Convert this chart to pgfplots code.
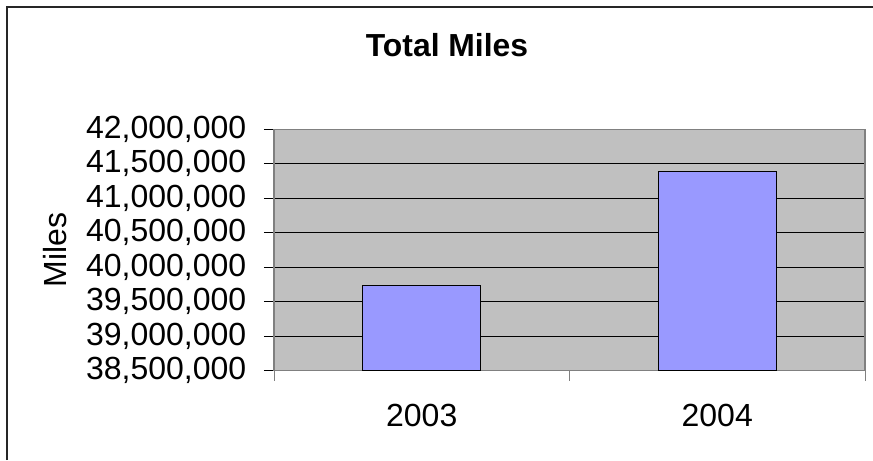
\documentclass[border=0pt]{standalone}
\usepackage{pgfplots}
\pgfplotsset{compat=1.18}
\usepackage{fontspec}
\setmainfont{Liberation Sans}
\definecolor{plotbg}{HTML}{C0C0C0}
\definecolor{barfill}{HTML}{9999FF}
\definecolor{axgray}{HTML}{808080}
\begin{document}
\begin{tikzpicture}[x=0.75pt,y=0.75pt]
\useasboundingbox (0,0) rectangle (873,460);
\draw[line width=1.3pt, black!85] (7,0) -- (7,453) -- (873,453);
\node[anchor=base, font=\fontsize{23.9}{28}\selectfont\bfseries, inner sep=0pt] at (447,403.3) {Total Miles};
\begin{axis}[
  at={(205.5pt,66.975pt)}, anchor=south west,
  scale only axis, width=443.25pt, height=181.05pt,
  xmin=-0.5, xmax=1.5,
  ymin=38500000, ymax=42000000,
  ytick={38500000,39000000,39500000,40000000,40500000,41000000,41500000,42000000},
  xtick={-0.5,0.5,1.5},
  xticklabels={2003,2004},
  x tick label as interval,
  scaled y ticks=false,
  ticklabel style={font=\fontsize{24}{28}\selectfont},
  yticklabel style={xshift=-9.75pt, /pgf/number format/.cd, fixed, 1000 sep={,}, assume math mode=true},
  xticklabel style={yshift=-14.25pt},
  tick align=outside,
  major tick length=7.5pt,
  xtick pos=bottom, ytick pos=left,
  tick style={black, line width=0.75pt},
  x tick style={axgray},
  axis line style={axgray, line width=0.9pt},
  axis background/.style={fill=plotbg},
  ymajorgrids,
  grid style={black, line width=0.75pt},
  ylabel={Miles},
  every axis y label/.style={at={(axis description cs:0,0.5)}, xshift=-164.25pt, rotate=90, anchor=center, font=\fontsize{24}{28}\selectfont},
  ybar, bar width=88.5pt, bar shift=0pt,
]
\addplot[fill=barfill, draw=black, line width=1pt] coordinates {(0,39732000) (1,41385000)};
\end{axis}
\end{tikzpicture}
\end{document}
